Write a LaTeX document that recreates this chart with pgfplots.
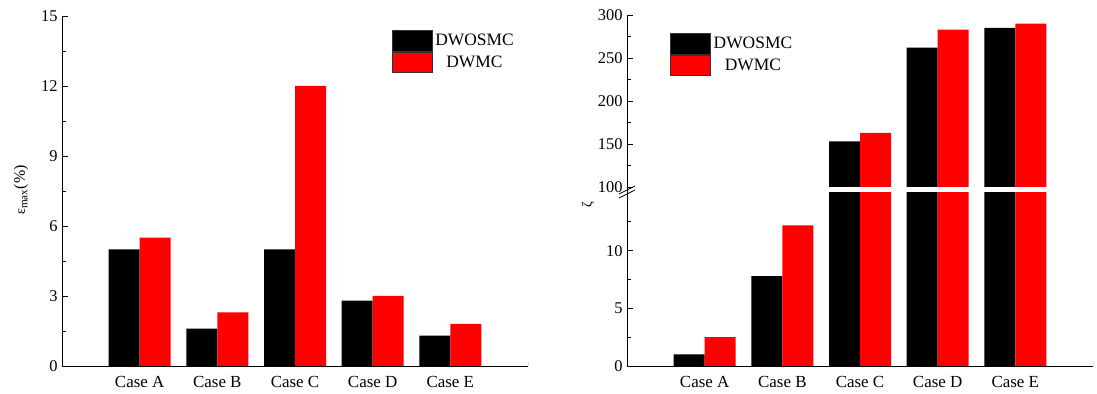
\documentclass[border=0pt]{standalone}
\usepackage{pgfplots}
\pgfplotsset{compat=1.18}
\usepackage{fontspec}
\setmainfont{Liberation Serif}
\definecolor{barred}{RGB}{255,0,0}

\pgfplotsset{
  casebars/.style={
    scale only axis,
    width=466bp,
    xmin=0, xmax=6,
    xtick={1,2,3,4,5},
    xticklabels={Case A,Case B,Case C,Case D,Case E},
    axis x line*=bottom, axis y line*=left,
    axis line style={-, line width=0.8bp, black},
    tick align=inside,
    major tick length=6bp, minor tick length=3.5bp,
    every tick/.style={black, line width=0.7bp},
    xtick style={draw=none},
    yticklabel style={font=\fontsize{16.5}{18}\selectfont, xshift=-1bp},
    xticklabel style={font=\fontsize{17}{19}\selectfont, yshift=-1bp},
    /pgf/number format/assume math mode=true,
    ybar=0pt, bar width=31bp,
    legend image code/.code={\draw[##1, draw=black!80, line width=0.6bp] (0bp,-10.3bp) rectangle (40bp,10.3bp);},
    legend cell align=center,
    legend style={draw=none, fill=none, inner sep=0pt, row sep=0.4bp,
      font=\fontsize{17.5}{19}\selectfont,
      nodes={inner xsep=3bp, inner ysep=0.5bp}},
  },
  blackbars/.style={fill=black, draw=none},
  redbars/.style={fill=barred, draw=none},
}

\begin{document}
\begin{tikzpicture}
\useasboundingbox (0bp,0bp) rectangle (1097bp,394bp);

% ---- left panel: maximum error ----
\begin{axis}[casebars,
  at={(62bp,28bp)}, anchor=south west, height=350bp,
  ymin=0, ymax=15, ytick={0,3,...,15}, minor ytick={1.5,4.5,...,13.5},
  legend style={at={(rel axis cs:0.707,0.96)}, anchor=north west},
]
\addplot[blackbars] coordinates {(1,5.0) (2,1.6) (3,5.0) (4,2.8) (5,1.3)};
\addplot[redbars]   coordinates {(1,5.5) (2,2.3) (3,12.0) (4,3.0) (5,1.8)};
\legend{DWOSMC, DWMC}
\draw[line width=0.8bp] (rel axis cs:1,0) -- ++(0bp,4bp);
\end{axis}
\node[rotate=90, font=\fontsize{16}{18}\selectfont] at (21bp,204bp)
  {{\fontsize{14}{15}\selectfont ε}\textsubscript{max}(\%)};

% ---- right panel, lower part ----
\begin{axis}[casebars,
  at={(627bp,28bp)}, anchor=south west, height=173bp,
  ymin=0, ymax=15, ytick={0,5,10}, minor ytick={2.5,7.5,12.5},
]
\addplot[blackbars] coordinates {(1,1.0) (2,7.8) (3,153) (4,262) (5,285)};
\addplot[redbars]   coordinates {(1,2.5) (2,12.2) (3,163) (4,283) (5,290)};
\draw[line width=0.8bp] (rel axis cs:1,0) -- ++(0bp,4bp);
\end{axis}

% ---- right panel, upper part ----
\begin{axis}[casebars,
  at={(627bp,207bp)}, anchor=south west, height=172bp,
  axis x line=none,
  ymin=100, ymax=300, ytick={100,150,...,300}, minor ytick={125,175,...,275},
  restrict y to domain=100:400,
  legend style={at={(rel axis cs:0.092,0.895)}, anchor=north west},
]
\addplot[blackbars] coordinates {(1,1.0) (2,7.8) (3,153) (4,262) (5,285)};
\addplot[redbars]   coordinates {(1,2.5) (2,12.2) (3,163) (4,283) (5,290)};
\legend{DWOSMC, DWMC}
\end{axis}

% axis break
\draw[line width=0.8bp] (627bp,201bp) -- (627bp,207bp);
\draw[line width=0.8bp] (619bp,200bp) -- (635bp,208bp);
\draw[line width=0.8bp] (619bp,196bp) -- (635bp,204bp);
\node[rotate=90, font=\fontsize{14}{16}\selectfont] at (588bp,189bp) {ζ};
\end{tikzpicture}
\end{document}
